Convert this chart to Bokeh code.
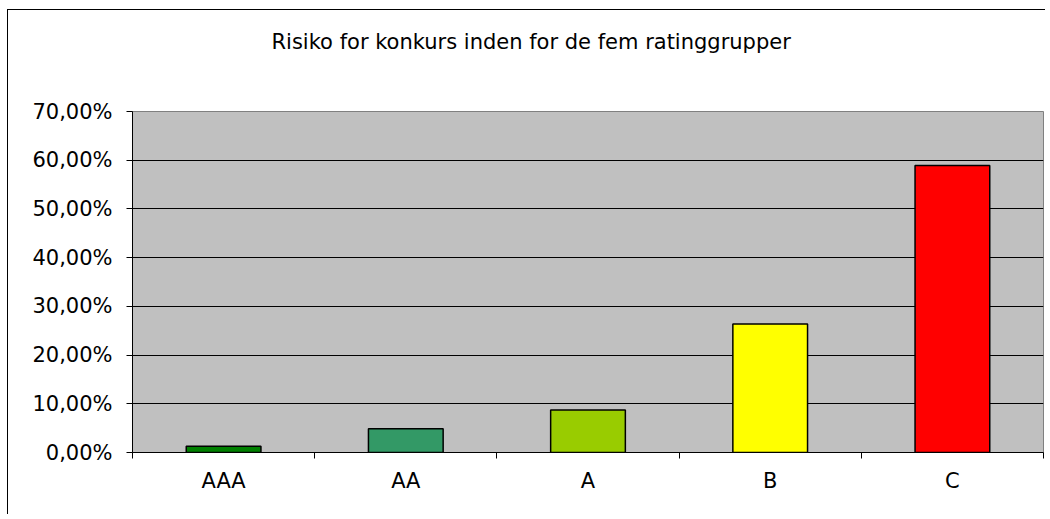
from bokeh.plotting import figure
from bokeh.models import FixedTicker, ColumnDataSource, Range1d, Title
from bokeh.embed import file_html
from bokeh.resources import INLINE

# ---- data ----
categories = ["AAA", "AA", "A", "B", "C"]
risk = [0.013, 0.049, 0.087, 0.264, 0.589]
bar_colors = ["#008000", "#339966", "#99CC00", "#FFFF00", "#FF0000"]
y_ticks = [0.0, 0.1, 0.2, 0.3, 0.4, 0.5, 0.6, 0.7]
y_tick_labels = ["0,00%", "10,00%", "20,00%", "30,00%", "40,00%", "50,00%", "60,00%", "70,00%"]
title_text = "Risiko for konkurs inden for de fem ratinggrupper"

FONT = "DejaVu Sans"

x_pos = [i + 0.5 for i in range(len(categories))]
boundaries = [float(i) for i in range(len(categories) + 1)]

source = ColumnDataSource(dict(x=x_pos, top=risk, color=bar_colors, cat=categories))

p = figure(
    frame_width=911, frame_height=341,
    x_range=Range1d(0, len(categories)), y_range=Range1d(0, 0.7),
    output_backend="svg", toolbar_location=None,
    min_border_left=124, min_border_right=2, min_border_top=101, min_border_bottom=62,
    background_fill_color="#C0C0C0", border_fill_color="white",
    outline_line_color="#808080", outline_line_width=1,
    styles={"border-left": "1px solid black", "border-top": "1px solid black",
            "margin-left": "7px", "margin-top": "9px"},
)

p.title.text = title_text
p.title.align = "left"
p.title.offset = 139
p.title.standoff = 10
p.title.text_font = FONT
p.title.text_font_size = "21px"
p.title.text_font_style = "normal"
p.title.text_color = "black"

# empty spacer between the title and the plot area
spacer = Title(text=" ", standoff=27, text_font=FONT, text_font_size="21px")
p.add_layout(spacer, "above")

p.vbar(x="x", top="top", width=0.41, source=source,
       fill_color="color", line_color="black", line_width=1.5)

# grid
p.xgrid.visible = False
p.ygrid.ticker = FixedTicker(ticks=y_ticks[1:-1])
p.ygrid.grid_line_color = "black"
p.ygrid.grid_line_width = 1

# y axis
ya = p.yaxis[0]
ya.ticker = FixedTicker(ticks=y_ticks)
ya.major_label_overrides = {t: l for t, l in zip(y_ticks, y_tick_labels)}
ya.major_tick_out = 6
ya.major_tick_in = 0
ya.minor_tick_out = 0
ya.minor_tick_in = 0
ya.axis_line_color = "black"
ya.major_tick_line_color = "black"
ya.major_label_text_font = FONT
ya.major_label_text_font_size = "21px"
ya.major_label_text_color = "black"
ya.major_label_standoff = 14

# x axis
xa = p.xaxis[0]
xa.ticker = FixedTicker(ticks=x_pos, minor_ticks=boundaries)
xa.major_label_overrides = {t: c for t, c in zip(x_pos, categories)}
xa.major_tick_out = 0
xa.major_tick_in = 0
xa.minor_tick_out = 6
xa.minor_tick_in = 0
xa.minor_tick_line_color = "black"
xa.axis_line_color = "black"
xa.major_label_text_font = FONT
xa.major_label_text_font_size = "21px"
xa.major_label_text_color = "black"
xa.major_label_standoff = 10

open("out.html", "w").write(file_html(p, INLINE))
